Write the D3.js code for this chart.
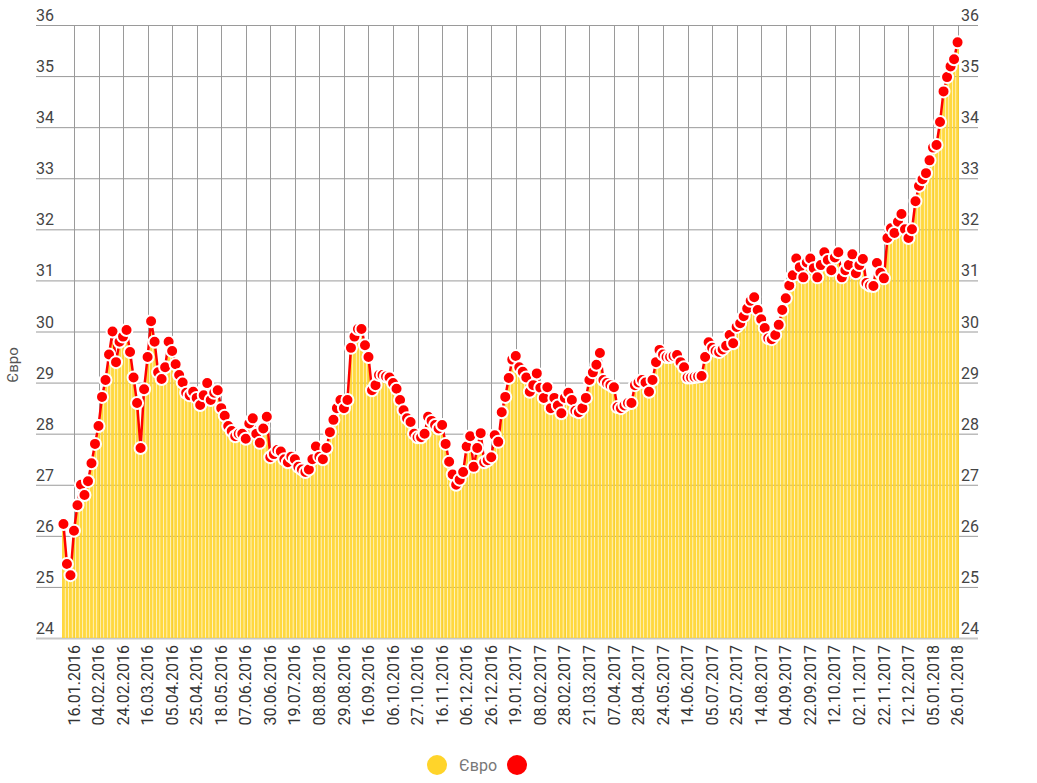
<!DOCTYPE html>
<html>
<head>
<meta charset="utf-8">
<script src="https://cdn.jsdelivr.net/npm/d3@7"></script>
<style>
  body { margin: 0; background: #fff; }
  svg { font-family: Roboto, "Noto Sans", sans-serif; }
</style>
</head>
<body>
<svg width="1037" height="783"></svg>
<script>
// курс євро, значення
const rates = [
  26.23, 25.45, 25.23, 26.1, 26.6, 27.0, 26.8, 27.07, 27.42, 27.8,
  28.15, 28.72, 29.05, 29.55, 30.0, 29.4, 29.8, 29.9, 30.03, 29.6,
  29.1, 28.6, 27.72, 28.87, 29.5, 30.2, 29.8, 29.2, 29.07, 29.3,
  29.8, 29.62, 29.36, 29.15, 29.0, 28.8, 28.75, 28.82, 28.7, 28.56,
  28.75, 28.99, 28.66, 28.8, 28.85, 28.5, 28.35, 28.15, 28.05, 27.95,
  28.0, 28.0, 27.9, 28.2, 28.3, 28.0, 27.82, 28.1, 28.33, 27.54,
  27.6, 27.68, 27.65, 27.5, 27.44, 27.55, 27.5, 27.35, 27.3, 27.25,
  27.3, 27.5, 27.75, 27.55, 27.5, 27.72, 28.03, 28.27, 28.5, 28.66,
  28.5, 28.66, 29.68, 29.9, 30.05, 30.05, 29.73, 29.5, 28.85, 28.95,
  29.15, 29.15, 29.12, 29.1, 28.99, 28.88, 28.66, 28.46, 28.3, 28.23,
  28.0, 27.93, 27.93, 28.0, 28.33, 28.25, 28.17, 28.1, 28.17, 27.8,
  27.45, 27.2, 27.0, 27.1, 27.25, 27.75, 27.95, 27.35, 27.72, 28.01,
  27.44, 27.48, 27.54, 27.97, 27.84, 28.42, 28.72, 29.09, 29.45, 29.52,
  29.3, 29.21, 29.1, 28.82, 28.95, 29.18, 28.9, 28.7, 28.91, 28.5,
  28.7, 28.55, 28.4, 28.7, 28.8, 28.66, 28.45, 28.42, 28.5, 28.7,
  29.05, 29.2, 29.35, 29.58, 29.05, 28.99, 28.95, 28.91, 28.52, 28.5,
  28.55, 28.6, 28.6, 28.95, 29.0, 29.05, 29.0, 28.82, 29.05, 29.4,
  29.64, 29.55, 29.5, 29.5, 29.52, 29.54, 29.4, 29.3, 29.1, 29.1,
  29.11, 29.12, 29.13, 29.5, 29.79, 29.68, 29.62, 29.6, 29.65, 29.72,
  29.93, 29.77, 30.09, 30.16, 30.3, 30.45, 30.6, 30.67, 30.42, 30.24,
  30.07, 29.87, 29.85, 29.93, 30.13, 30.42, 30.65, 30.9, 31.1, 31.43,
  31.26, 31.06, 31.35, 31.43, 31.24, 31.06, 31.3, 31.55, 31.4, 31.2,
  31.45, 31.55, 31.06, 31.2, 31.3, 31.51, 31.14, 31.3, 31.42, 30.95,
  30.9, 30.89, 31.34, 31.15, 31.04, 31.83, 32.02, 31.93, 32.15, 32.3,
  32.0, 31.83, 32.0, 32.55, 32.85, 32.98, 33.1, 33.35, 33.6, 33.65,
  34.1, 34.7, 34.98, 35.19, 35.33, 35.66
];

const tickLabels = [
  "16.01.2016", "04.02.2016", "24.02.2016", "16.03.2016", "05.04.2016",
  "25.04.2016", "18.05.2016", "07.06.2016", "30.06.2016", "19.07.2016",
  "08.08.2016", "29.08.2016", "16.09.2016", "06.10.2016", "27.10.2016",
  "16.11.2016", "06.12.2016", "26.12.2016", "19.01.2017", "08.02.2017",
  "28.02.2017", "21.03.2017", "07.04.2017", "28.04.2017", "24.05.2017",
  "14.06.2017", "05.07.2017", "25.07.2017", "14.08.2017", "04.09.2017",
  "22.09.2017", "12.10.2017", "02.11.2017", "22.11.2017", "12.12.2017",
  "05.01.2018", "26.01.2018"
];
// індекси точок, під якими стоять підписи
const tickIdx = tickLabels.map((d, k) => 3 + 7 * k);
const yTicks = [24, 25, 26, 27, 28, 29, 30, 31, 32, 33, 34, 35, 36];

const svg = d3.select("svg");
const plotL = 62, plotR = 959, plotT = 25, plotB = 638;

const x = d3.scaleBand()
  .domain(d3.range(rates.length))
  .range([plotL, plotR])
  .paddingInner(0.18);
const y = d3.scaleLinear().domain([24, 36]).range([plotB, plotT]);
const cx = i => x(i) + x.bandwidth() / 2;

// сітка
const grid = svg.append("g");
grid.selectAll(".h").data(yTicks).join("line")
  .attr("x1", 36).attr("x2", 978)
  .attr("y1", d => y(d) + 0.5).attr("y2", d => y(d) + 0.5)
  .attr("stroke", d => d === 24 ? "#c8c8c8" : "#9a9a9a")
  .attr("stroke-width", d => d === 24 ? 2 : 1);
grid.selectAll(".v").data(tickIdx).join("line")
  .attr("x1", d => Math.round(cx(d)) + 0.5).attr("x2", d => Math.round(cx(d)) + 0.5)
  .attr("y1", plotT).attr("y2", plotB)
  .attr("stroke", "#9a9a9a").attr("stroke-width", 1);

// стовпці
svg.append("g").selectAll("rect").data(rates).join("rect")
  .attr("x", (d, i) => x(i))
  .attr("width", x.bandwidth())
  .attr("y", d => y(d))
  .attr("height", d => plotB - y(d))
  .attr("fill", "#FFD42A")
  .attr("fill-opacity", 0.9);

// лінія з точками
const line = d3.line().x((d, i) => cx(i)).y(d => y(d));
svg.append("path")
  .attr("d", line(rates))
  .attr("fill", "none")
  .attr("stroke", "#ff0000")
  .attr("stroke-width", 2.5);
svg.append("g").selectAll("circle").data(rates).join("circle")
  .attr("cx", (d, i) => cx(i))
  .attr("cy", d => y(d))
  .attr("r", 6)
  .attr("fill", "#ff0000")
  .attr("stroke", "#fff")
  .attr("stroke-width", 2);

// підписи осі Y зліва і справа
const yl = svg.append("g").attr("font-size", 16).attr("fill", "#444");
yl.selectAll(".l").data(yTicks).join("text")
  .attr("x", 36).attr("y", d => y(d) - 4).text(d => d);
yl.selectAll(".r").data(yTicks).join("text")
  .attr("x", 961).attr("y", d => y(d) - 4).text(d => d);

svg.append("text")
  .attr("transform", "translate(18,365) rotate(-90)")
  .attr("text-anchor", "middle")
  .attr("font-size", 15)
  .attr("fill", "#555")
  .text("Євро");

// вісь X
const xAxis = d3.axisBottom(x)
  .tickValues(tickIdx)
  .tickFormat((d, k) => tickLabels[k])
  .tickSize(0);
const gx = svg.append("g")
  .attr("transform", `translate(0,${plotB})`)
  .call(xAxis);
gx.select(".domain").remove();
gx.selectAll("text")
  .attr("font-family", "Roboto, sans-serif")
  .attr("font-size", 16)
  .attr("fill", "#333")
  .attr("text-anchor", "end")
  .attr("dy", "0.35em")
  .attr("transform", "translate(0,7) rotate(-90)")
  .attr("x", 0).attr("y", 0);

// легенда
const lg = svg.append("g");
lg.append("circle").attr("cx", 437).attr("cy", 765).attr("r", 10).attr("fill", "#FFD42A");
lg.append("text").attr("x", 459).attr("y", 771).attr("font-size", 16).attr("fill", "#777").text("Євро");
lg.append("circle").attr("cx", 517).attr("cy", 765).attr("r", 10).attr("fill", "#ff0000");
</script>
</body>
</html>
